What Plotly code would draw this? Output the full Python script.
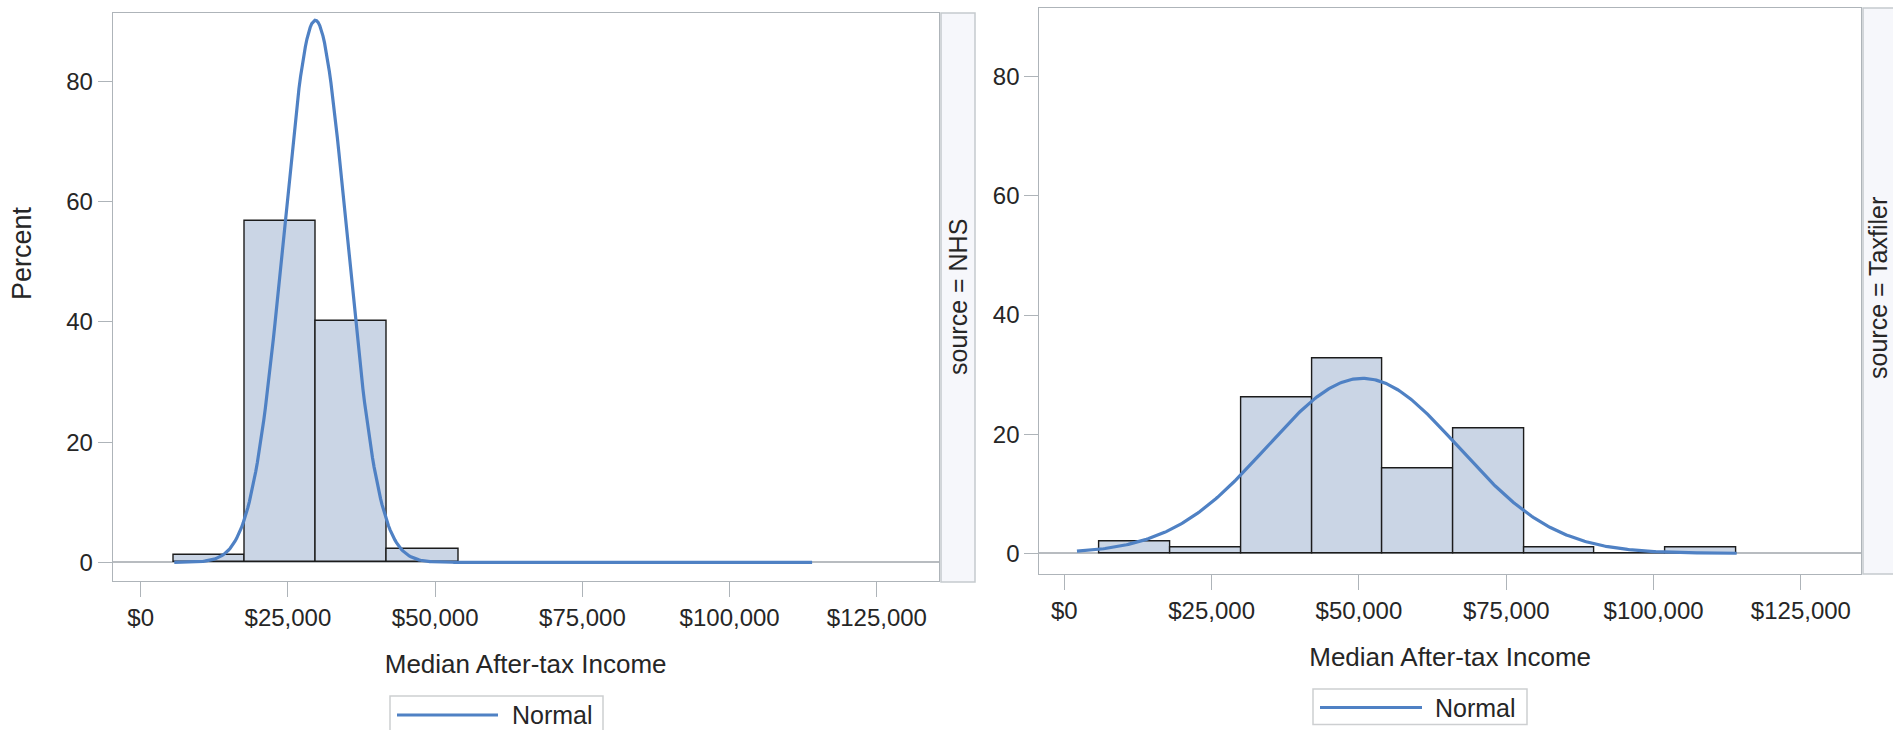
import numpy as np
import plotly.graph_objects as go

W, H = 1893, 730

# ---------------- data ----------------
PANELS = ["NHS", "Taxfiler"]

NHS_BIN_MIDS = [11600, 23700, 35800, 47900]
NHS_BIN_WIDTH = 12100
NHS_PERCENT = [1.15, 56.8, 40.2, 2.15]

TAX_BIN_MIDS = [12000, 24000, 36000, 48000, 60000, 72000, 84000, 96000, 108000]
TAX_BIN_WIDTH = 12000
TAX_PERCENT = [2.0, 1.05, 26.2, 32.8, 14.3, 20.9, 1.05, 0.0, 1.05]

# fitted normal curve parameters (mean, std dev, drawn from .. to)
NHS_NORMAL_MEAN = 29650
NHS_NORMAL_SD = 5350
NHS_NORMAL_SPAN = [5700, 114000]
TAX_NORMAL_MEAN = 50600
TAX_NORMAL_SD = 16300
TAX_NORMAL_SPAN = [2150, 114100]

X_TICKS = [0, 25000, 50000, 75000, 100000, 125000]
X_TICK_LABELS = ["$0", "$25,000", "$50,000", "$75,000", "$100,000", "$125,000"]
Y_TICKS = [0, 20, 40, 60, 80]

# ---------------- styling ----------------
FONT = "Liberation Sans, Arial, sans-serif"
TXT = "#262626"
FRAME = "#AEB4B9"
BAR_FILL = "#CAD5E5"
BAR_LINE = "#1C1C1C"
CURVE = "#4F81C4"
STRIP_FILL = "#F6F7FB"
STRIP_LINE = "#C5CACE"


def px(x):
    return x / W


def py(y):
    return 1 - y / H


def normal_curve(mean, sd, span, binw):
    xs = np.linspace(span[0], span[1], 400)
    ys = 100.0 * binw / (sd * np.sqrt(2 * np.pi)) * np.exp(-0.5 * ((xs - mean) / sd) ** 2)
    return xs, ys


fig = go.Figure()

panels = [
    dict(mids=NHS_BIN_MIDS, w=NHS_BIN_WIDTH, pct=NHS_PERCENT,
         mean=NHS_NORMAL_MEAN, sd=NHS_NORMAL_SD, span=NHS_NORMAL_SPAN,
         xa="x", ya="y"),
    dict(mids=TAX_BIN_MIDS, w=TAX_BIN_WIDTH, pct=TAX_PERCENT,
         mean=TAX_NORMAL_MEAN, sd=TAX_NORMAL_SD, span=TAX_NORMAL_SPAN,
         xa="x2", ya="y2"),
]

for p in panels:
    fig.add_trace(go.Bar(
        x=p["mids"], y=p["pct"], width=[p["w"]] * len(p["mids"]),
        marker=dict(color=BAR_FILL, line=dict(color=BAR_LINE, width=1.4)),
        xaxis=p["xa"], yaxis=p["ya"], showlegend=False, hoverinfo="x+y",
    ))
    cx, cy = normal_curve(p["mean"], p["sd"], p["span"], p["w"])
    fig.add_trace(go.Scatter(
        x=cx, y=cy, mode="lines", name="Normal",
        line=dict(color=CURVE, width=3.2),
        xaxis=p["xa"], yaxis=p["ya"], showlegend=False,
    ))

# plot frames in pixels: (left, top, right, bottom)
LEFT_FRAME = (112.7, 13.0, 938.6, 581.0)
RIGHT_FRAME = (1039.3, 8.4, 1861.0, 574.0)


def xaxis_cfg(frame, rng, standoff):
    return dict(
        domain=[px(frame[0]), px(frame[2])], range=rng,
        showline=True, mirror=True, linecolor=FRAME, linewidth=1,
        ticks="outside", ticklen=15, tickwidth=1, tickcolor=FRAME,
        tickvals=X_TICKS, ticktext=X_TICK_LABELS,
        tickfont=dict(family=FONT, size=24, color=TXT),
        showgrid=False, zeroline=False,
        title=dict(text="Median After-tax Income",
                   font=dict(family=FONT, size=26, color=TXT), standoff=standoff),
    )


def yaxis_cfg(frame, rng, anchor):
    return dict(
        domain=[py(frame[3]), py(frame[1])], range=rng, anchor=anchor,
        showline=True, mirror=True, linecolor=FRAME, linewidth=1,
        ticks="outside", ticklen=14, tickwidth=1, tickcolor=FRAME,
        tickvals=Y_TICKS,
        tickfont=dict(family=FONT, size=24, color=TXT),
        showgrid=False, zeroline=True, zerolinecolor="#B8BCC0", zerolinewidth=2,
    )


fig.update_layout(
    width=W, height=H,
    margin=dict(l=0, r=0, t=0, b=0),
    paper_bgcolor="white", plot_bgcolor="white",
    bargap=0, barmode="overlay",
    font=dict(family=FONT, color=TXT),
    xaxis=dict(xaxis_cfg(LEFT_FRAME, [-4754, 135476], 25), anchor="y"),
    yaxis=yaxis_cfg(LEFT_FRAME, [-3.11, 91.43], "x"),
    xaxis2=dict(xaxis_cfg(RIGHT_FRAME, [-4243, 135200], 25), anchor="y2"),
    yaxis2=yaxis_cfg(RIGHT_FRAME, [-3.47, 91.46], "x2"),
)

shapes = []
annotations = []

# strips on the right side of each panel
STRIPS = [
    ((941, 13, 975, 582), "source = NHS", 958, 297),
    ((1863, 8, 1897, 574), "source = Taxfiler", 1878, 288),
]
for (x0, y0, x1, y1), label, tx, ty in STRIPS:
    shapes.append(dict(type="rect", xref="paper", yref="paper",
                       x0=px(x0), x1=px(x1), y0=py(y1), y1=py(y0),
                       fillcolor=STRIP_FILL, line=dict(color=STRIP_LINE, width=1.5),
                       layer="below"))
    annotations.append(dict(xref="paper", yref="paper", x=px(tx), y=py(ty),
                            text=label, textangle=-90, showarrow=False,
                            xanchor="center", yanchor="middle",
                            font=dict(family=FONT, size=25, color=TXT)))

# y-axis title (left panel only)
annotations.append(dict(xref="paper", yref="paper", x=px(22), y=py(253),
                        text="Percent", textangle=-90, showarrow=False,
                        xanchor="center", yanchor="middle",
                        font=dict(family=FONT, size=27, color=TXT)))

# legends ("Normal") below each panel
LEGENDS = [
    ((390, 696, 603, 732), (397, 498), 715, 510),
    ((1313, 689, 1527, 724.5), (1320, 1422), 707.5, 1433),
]
for (x0, y0, x1, y1), (lx0, lx1), ly, tx in LEGENDS:
    shapes.append(dict(type="rect", xref="paper", yref="paper",
                       x0=px(x0), x1=px(x1), y0=py(y1), y1=py(y0),
                       fillcolor="white", line=dict(color="#CDCFD1", width=1.5)))
    shapes.append(dict(type="line", xref="paper", yref="paper",
                       x0=px(lx0), x1=px(lx1), y0=py(ly), y1=py(ly),
                       line=dict(color=CURVE, width=3.2)))
    annotations.append(dict(xref="paper", yref="paper", x=px(tx), y=py(ly),
                            text="Normal", showarrow=False,
                            xanchor="left", yanchor="middle",
                            font=dict(family=FONT, size=25, color=TXT)))

fig.update_layout(shapes=shapes, annotations=annotations)

fig.write_html("out.html")
